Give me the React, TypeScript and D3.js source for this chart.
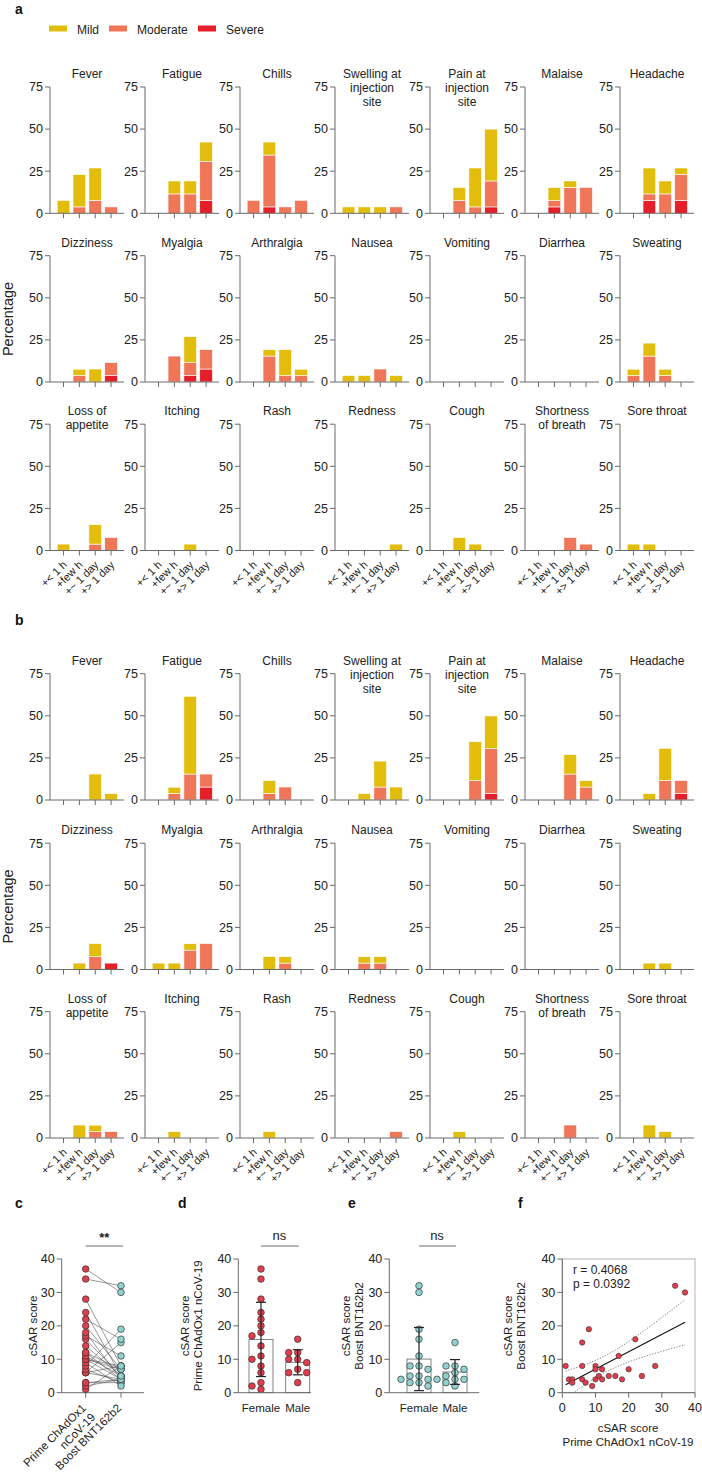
import React from "react";
import * as d3 from "d3";

const FONT = "'Liberation Sans', Arial, Helvetica, sans-serif";

// ---------- Panels a/b data ----------
const symptoms = [
  "Fever", "Fatigue", "Chills", "Swelling at\ninjection\nsite", "Pain at\ninjection\nsite", "Malaise", "Headache",
  "Dizziness", "Myalgia", "Arthralgia", "Nausea", "Vomiting", "Diarrhea", "Sweating",
  "Loss of\nappetite", "Itching", "Rash", "Redness", "Cough", "Shortness\nof breath", "Sore throat",
];
const onsetLabels = ["+< 1 h", "+few h", "+~ 1 day", "+> 1 day"];
const severityNames = ["Mild", "Moderate", "Severe"];
const severityColors = ["#E2BD0C", "#EF7658", "#E51F29"];
const yTicks = [0, 25, 50, 75];

// Prime (panel a), % of participants, per symptom: [<1h, few h, ~1 day, >1 day]
const primeMild = [
  [7.7, 19.2, 19.2, 0], [0, 7.7, 7.7, 11.5], [0, 7.7, 0, 0], [3.8, 3.8, 3.8, 0], [0, 7.7, 23.1, 30.8], [0, 7.7, 3.8, 0], [0, 15.4, 7.7, 3.8],
  [0, 3.8, 7.7, 0], [0, 0, 15.4, 0], [0, 3.8, 15.4, 3.8], [3.8, 3.8, 0, 3.8], [0, 0, 0, 0], [0, 0, 0, 0], [3.8, 7.7, 3.8, 0],
  [3.8, 0, 11.5, 0], [0, 0, 3.8, 0], [0, 0, 0, 0], [0, 0, 0, 3.8], [0, 7.7, 3.8, 0], [0, 0, 0, 0], [3.8, 3.8, 0, 0],
];
const primeModerate = [
  [0, 3.8, 7.7, 3.8], [0, 11.5, 11.5, 23.1], [7.7, 30.8, 3.8, 7.7], [0, 0, 0, 3.8], [0, 7.7, 3.8, 15.4], [0, 3.8, 15.4, 15.4], [0, 3.8, 11.5, 15.4],
  [0, 3.8, 0, 7.7], [0, 15.4, 7.7, 11.5], [0, 15.4, 3.8, 3.8], [0, 0, 7.7, 0], [0, 0, 0, 0], [0, 0, 0, 0], [3.8, 15.4, 3.8, 0],
  [0, 0, 3.8, 7.7], [0, 0, 0, 0], [0, 0, 0, 0], [0, 0, 0, 0], [0, 0, 0, 0], [0, 0, 7.7, 3.8], [0, 0, 0, 0],
];
const primeSevere = [
  [0, 0, 0, 0], [0, 0, 0, 7.7], [0, 3.8, 0, 0], [0, 0, 0, 0], [0, 0, 0, 3.8], [0, 3.8, 0, 0], [0, 7.7, 0, 7.7],
  [0, 0, 0, 3.8], [0, 0, 3.8, 7.7], [0, 0, 0, 0], [0, 0, 0, 0], [0, 0, 0, 0], [0, 0, 0, 0], [0, 0, 0, 0],
  [0, 0, 0, 0], [0, 0, 0, 0], [0, 0, 0, 0], [0, 0, 0, 0], [0, 0, 0, 0], [0, 0, 0, 0], [0, 0, 0, 0],
];

// Boost (panel b)
const boostMild = [
  [0, 0, 15.4, 3.8], [0, 3.8, 46.2, 0], [0, 7.7, 0, 0], [0, 3.8, 15.4, 7.7], [0, 0, 23.1, 19.2], [0, 0, 11.5, 3.8], [0, 3.8, 19.2, 0],
  [0, 3.8, 7.7, 0], [3.8, 3.8, 3.8, 0], [0, 7.7, 3.8, 0], [0, 3.8, 3.8, 0], [0, 0, 0, 0], [0, 0, 0, 0], [0, 3.8, 3.8, 0],
  [0, 7.7, 3.8, 0], [0, 3.8, 0, 0], [0, 3.8, 0, 0], [0, 0, 0, 0], [0, 3.8, 0, 0], [0, 0, 0, 0], [0, 7.7, 3.8, 0],
];
const boostModerate = [
  [0, 0, 0, 0], [0, 3.8, 15.4, 7.7], [0, 3.8, 7.7, 0], [0, 0, 7.7, 0], [0, 0, 11.5, 26.9], [0, 0, 15.4, 7.7], [0, 0, 11.5, 7.7],
  [0, 0, 7.7, 0], [0, 0, 11.5, 15.4], [0, 0, 3.8, 0], [0, 3.8, 3.8, 0], [0, 0, 0, 0], [0, 0, 0, 0], [0, 0, 0, 0],
  [0, 0, 3.8, 3.8], [0, 0, 0, 0], [0, 0, 0, 0], [0, 0, 0, 3.8], [0, 0, 0, 0], [0, 0, 7.7, 0], [0, 0, 0, 0],
];
const boostSevere = [
  [0, 0, 0, 0], [0, 0, 0, 7.7], [0, 0, 0, 0], [0, 0, 0, 0], [0, 0, 0, 3.8], [0, 0, 0, 0], [0, 0, 0, 3.8],
  [0, 0, 0, 3.8], [0, 0, 0, 0], [0, 0, 0, 0], [0, 0, 0, 0], [0, 0, 0, 0], [0, 0, 0, 0], [0, 0, 0, 0],
  [0, 0, 0, 0], [0, 0, 0, 0], [0, 0, 0, 0], [0, 0, 0, 0], [0, 0, 0, 0], [0, 0, 0, 0], [0, 0, 0, 0],
];

// ---------- Panels c-f data (cSAR scores, paired per participant) ----------
const pairedPrime = [1, 2, 3, 3, 6, 6, 6, 7, 8, 9, 10, 10, 10, 11, 12, 12, 14, 16, 17, 18, 20, 22, 24, 28, 34, 37];
const pairedBoost = [8, 4, 4, 3, 15, 8, 4, 3, 19, 2, 8, 7, 4, 5, 7, 4, 5, 5, 11, 4, 7, 16, 5, 8, 32, 30];
const primeFemale = [37, 34, 28, 24, 22, 20, 18, 17, 14, 11, 10, 8, 6, 3, 2, 1];
const primeMale = [16, 12, 12, 10, 10, 9, 7, 6, 6, 3];
const boostFemale = [32, 30, 19, 16, 11, 8, 8, 7, 5, 5, 4, 4, 4, 3, 3, 2];
const boostMale = [15, 8, 8, 7, 5, 4, 4, 3, 2, 6];
const groupLabels = ["Female", "Male"];
const pairLabels = ["Prime ChAdOx1\nnCoV-19", "Boost BNT162b2"];
const scoreTicks = [0, 10, 20, 30, 40];
const corrR = "r = 0.4068";
const corrP = "p = 0.0392";

const RED = "#E33C4D";
const TEAL = "#8FD3D0";
const AXIS = "#6a6a6a";

const SEV_KEYS = ["Severe", "Moderate", "Mild"];

function Facet({ x0, y0, title, mild, moderate, severe, showLabels }: any) {
  const x = d3.scaleBand<string>().domain(onsetLabels).range([x0 + 5.6, x0 + 69]).paddingInner(0.2).paddingOuter(0.1);
  const y = d3.scaleLinear().domain([0, 75]).range([y0, y0 - 126.3]);
  const rows = onsetLabels.map((k, i) => ({ key: k, Mild: mild[i], Moderate: moderate[i], Severe: severe[i] }));
  const series = d3.stack<any>().keys(SEV_KEYS)(rows);
  const colorOf: any = { Mild: severityColors[0], Moderate: severityColors[1], Severe: severityColors[2] };
  const lines = title.split("\n");
  const top = y(75);
  return (
    <g>
      {lines.map((l: string, i: number) => (
        <text key={i} x={x0 + 37} y={top - 9 + i * 14} textAnchor="middle" fontSize={12} fill="#222">{l}</text>
      ))}
      {series.map((s) => (
        <g key={s.key} fill={colorOf[s.key]}>
          {s.map((d: any, i: number) =>
            d[1] - d[0] > 0 ? (
              <rect key={i} x={x(onsetLabels[i])} y={y(d[1])} width={x.bandwidth()} height={y(d[0]) - y(d[1])} stroke="#fff" strokeWidth={0.6} />
            ) : null
          )}
        </g>
      ))}
      <line x1={x0} x2={x0} y1={y(0)} y2={y(75)} stroke={AXIS} strokeWidth={1} />
      <line x1={x0} x2={x0 + 74} y1={y0} y2={y0} stroke={AXIS} strokeWidth={1} />
      {yTicks.map((t) => (
        <g key={t}>
          <line x1={x0 - 5} x2={x0} y1={y(t)} y2={y(t)} stroke={AXIS} />
          <text x={x0 - 7} y={y(t)} dy="0.35em" textAnchor="end" fontSize={12.5} fill="#222">{t}</text>
        </g>
      ))}
      {onsetLabels.map((l) => {
        const cx = (x(l) as number) + x.bandwidth() / 2;
        return (
          <g key={l}>
            <line x1={cx} x2={cx} y1={y0} y2={y0 + 5} stroke={AXIS} />
            {showLabels ? (
              <text transform={`translate(${cx + 4},${y0 + 15}) rotate(-45)`} textAnchor="end" fontSize={11} fill="#222">{l}</text>
            ) : null}
          </g>
        );
      })}
    </g>
  );
}

function SymptomPanel({ rowZeros, mild, moderate, severe, letter, letterY }: any) {
  return (
    <g>
      <text x={15} y={letterY} fontSize={14} fontWeight="bold" fill="#111">{letter}</text>
      <text transform={`translate(13,${rowZeros[1] - 63})rotate(-90)`} textAnchor="middle" fontSize={14.5} fill="#222">Percentage</text>
      {symptoms.map((s, i) => {
        const r = Math.floor(i / 7);
        const c = i % 7;
        return (
          <Facet key={s} x0={50 + c * 95} y0={rowZeros[r]} title={s} mild={mild[i]} moderate={moderate[i]} severe={severe[i]} showLabels={r === 2} />
        );
      })}
    </g>
  );
}

function swarm(values: number[], yScale: any, cx: number, r: number, step: number) {
  const order = values.map((v, i) => ({ v, i })).sort((a, b) => b.v - a.v);
  const placed: { x: number; y: number }[] = [];
  const res: { x: number; y: number }[] = new Array(values.length);
  for (const { v, i } of order) {
    const yy = yScale(v);
    for (const dx of [0, -step, step, -2 * step, 2 * step]) {
      if (placed.every((p) => Math.hypot(p.x - (cx + dx), p.y - yy) >= 2 * r - 0.5)) {
        res[i] = { x: cx + dx, y: yy };
        placed.push(res[i]);
        break;
      }
    }
    if (!res[i]) { res[i] = { x: cx, y: yy }; placed.push(res[i]); }
  }
  return res;
}

const Y0 = 1392.7;
const Y40 = 1259;
const yScore = d3.scaleLinear().domain([0, 40]).range([Y0, Y40]);

function ScoreYAxis({ x0 }: any) {
  return (
    <g>
      <line x1={x0} x2={x0} y1={yScore(0)} y2={yScore(40)} stroke={AXIS} />
      {scoreTicks.map((t) => (
        <g key={t}>
          <line x1={x0 - 5} x2={x0} y1={yScore(t)} y2={yScore(t)} stroke={AXIS} />
          <text x={x0 - 7} y={yScore(t)} dy="0.35em" textAnchor="end" fontSize={12.5} fill="#222">{t}</text>
        </g>
      ))}
    </g>
  );
}

function YLabel({ x, lines }: any) {
  const cy = (Y0 + Y40) / 2;
  return (
    <text transform={`translate(${x},${cy}) rotate(-90)`} textAnchor="middle" fontSize={11.5} fill="#222">
      {lines.map((l: string, i: number) => (
        <tspan key={i} x={0} dy={i === 0 ? 0 : "1.15em"}>{l}</tspan>
      ))}
    </text>
  );
}

function PanelC() {
  const x0 = 61.7;
  const xs = d3.scalePoint<string>().domain(pairLabels).range([85.7, 121]);
  const xp = xs(pairLabels[0]) as number;
  const xb = xs(pairLabels[1]) as number;
  return (
    <g>
      <text x={15} y={1208} fontSize={14} fontWeight="bold" fill="#111">c</text>
      <YLabel x={37} lines={["cSAR score"]} />
      <ScoreYAxis x0={x0} />
      <line x1={x0} x2={144} y1={Y0} y2={Y0} stroke={AXIS} />
      {pairLabels.map((l) => (
        <line key={l} x1={xs(l)} x2={xs(l)} y1={Y0} y2={Y0 + 5} stroke={AXIS} />
      ))}
      {pairedPrime.map((p, i) => (
        <line key={i} x1={xp} x2={xb} y1={yScore(p)} y2={yScore(pairedBoost[i])} stroke="#555" strokeWidth={0.6} />
      ))}
      {pairedPrime.map((p, i) => (
        <circle key={"p" + i} cx={xp} cy={yScore(p)} r={3.3} fill={RED} stroke="#333" strokeWidth={0.7} />
      ))}
      {pairedBoost.map((b, i) => (
        <circle key={"b" + i} cx={xb} cy={yScore(b)} r={3.3} fill={TEAL} stroke="#333" strokeWidth={0.7} />
      ))}
      <line x1={xp} x2={xb + 2} y1={1246} y2={1246} stroke="#444" strokeWidth={0.8} />
      <text x={(xp + xb) / 2 + 1} y={1242} textAnchor="middle" fontSize={13} fontWeight="bold" fill="#222">**</text>
      {pairLabels.map((l) => {
        const parts = l.split("\n");
        return (
          <text key={l} transform={`translate(${(xs(l) as number) + 1},${Y0 + 16}) rotate(-45)`} textAnchor="end" fontSize={11.5} fill="#222">
            {parts.map((p, i) => (
              <tspan key={i} x={0} dy={i === 0 ? 0 : "1.15em"}>{p}</tspan>
            ))}
          </text>
        );
      })}
    </g>
  );
}

function GroupPanel({ x0, xEnd, c1, c2, letter, letterX, female, male, color, ylines, ylabelX }: any) {
  const xs = d3.scalePoint<string>().domain(groupLabels).range([c1, c2]);
  const bw = 24;
  const groups = [female, male];
  return (
    <g>
      <text x={letterX} y={1208} fontSize={14} fontWeight="bold" fill="#111">{letter}</text>
      <YLabel x={ylabelX} lines={ylines} />
      {groups.map((vals: number[], gi: number) => {
        const g = groupLabels[gi];
        const cx = xs(g) as number;
        const m = d3.mean(vals) as number;
        const sd = d3.deviation(vals) as number;
        const pts = swarm(vals, yScore, cx, 3.3, 9);
        return (
          <g key={g}>
            <rect x={cx - bw / 2} y={yScore(m)} width={bw} height={Y0 - yScore(m)} fill="#fff" stroke="#666" strokeWidth={0.8} />
            {pts.map((p, i) => (
              <circle key={i} cx={p.x} cy={p.y} r={3.3} fill={color} stroke="#333" strokeWidth={0.7} />
            ))}
            <line x1={cx} x2={cx} y1={yScore(Math.max(0, m - sd))} y2={yScore(m + sd)} stroke="#222" strokeWidth={1.2} />
            <line x1={cx - 5} x2={cx + 5} y1={yScore(m + sd)} y2={yScore(m + sd)} stroke="#222" strokeWidth={1.2} />
            <line x1={cx - 5} x2={cx + 5} y1={yScore(Math.max(0, m - sd))} y2={yScore(Math.max(0, m - sd))} stroke="#222" strokeWidth={1.2} />
            <text x={cx} y={Y0 + 19} textAnchor="middle" fontSize={11.5} fill="#222">{g}</text>
          </g>
        );
      })}
      <ScoreYAxis x0={x0} />
      <line x1={x0} x2={xEnd} y1={Y0} y2={Y0} stroke={AXIS} />
      <line x1={c1} x2={c2 + 1} y1={1246} y2={1246} stroke="#444" strokeWidth={0.8} />
      <text x={(c1 + c2) / 2} y={1240} textAnchor="middle" fontSize={13} fill="#222">ns</text>
    </g>
  );
}

function PanelF() {
  const x = d3.scaleLinear().domain([0, 40]).range([562.3, 695]);
  const n = pairedPrime.length;
  const mx = d3.mean(pairedPrime) as number;
  const my = d3.mean(pairedBoost) as number;
  const sxx = d3.sum(pairedPrime, (v) => (v - mx) ** 2);
  const sxy = d3.sum(pairedPrime, (v, i) => (v - mx) * (pairedBoost[i] - my));
  const b = sxy / sxx;
  const a = my - b * mx;
  const s = Math.sqrt(d3.sum(pairedPrime, (v, i) => (pairedBoost[i] - a - b * v) ** 2) / (n - 2));
  const t = 2.064;
  const [xmin, xmax] = d3.extent(pairedPrime) as [number, number];
  const xsamp = d3.range(0, 61).map((k) => xmin + ((xmax - xmin) * k) / 60);
  const hw = (xv: number) => t * s * Math.sqrt(1 / n + (xv - mx) ** 2 / sxx);
  const lineGen = d3.line<number[]>().x((d) => x(d[0])).y((d) => yScore(d[1]));
  const upper = xsamp.map((xv) => [xv, a + b * xv + hw(xv)]);
  const lower = xsamp.map((xv) => [xv, a + b * xv - hw(xv)]);
  return (
    <g>
      <text x={518} y={1208} fontSize={14} fontWeight="bold" fill="#111">f</text>
      <defs>
        <clipPath id="fclip">
          <rect x={x(0)} y={yScore(40)} width={x(40) - x(0)} height={Y0 - yScore(40)} />
        </clipPath>
      </defs>
      <rect x={x(0)} y={yScore(40)} width={x(40) - x(0)} height={Y0 - yScore(40)} fill="none" stroke="#b5b5b5" strokeWidth={1} />
      <YLabel x={512} lines={["cSAR score", "Boost BNT162b2"]} />
      <ScoreYAxis x0={x(0)} />
      <line x1={x(0)} x2={x(40)} y1={Y0} y2={Y0} stroke={AXIS} />
      {scoreTicks.map((tk) => (
        <g key={tk}>
          <line x1={x(tk)} x2={x(tk)} y1={Y0} y2={Y0 + 5} stroke={AXIS} />
          <text x={x(tk)} y={Y0 + 19} textAnchor="middle" fontSize={12.5} fill="#222">{tk}</text>
        </g>
      ))}
      <g clipPath="url(#fclip)">
        <path d={lineGen(upper) as string} fill="none" stroke="#555" strokeWidth={0.8} strokeDasharray="1.2,1.6" />
        <path d={lineGen(lower) as string} fill="none" stroke="#555" strokeWidth={0.8} strokeDasharray="1.2,1.6" />
        <line x1={x(xmin)} x2={x(xmax)} y1={yScore(a + b * xmin)} y2={yScore(a + b * xmax)} stroke="#111" strokeWidth={1.1} />
      </g>
      {pairedPrime.map((p, i) => (
        <circle key={i} cx={x(p)} cy={yScore(pairedBoost[i])} r={2.7} fill={RED} stroke="#333" strokeWidth={0.6} />
      ))}
      <text x={573} y={1274} fontSize={12} fill="#222">{corrR}</text>
      <text x={573} y={1287.5} fontSize={12} fill="#222">{corrP}</text>
      <text x={628} y={1432} textAnchor="middle" fontSize={11.5} fill="#222">cSAR score</text>
      <text x={628} y={1446} textAnchor="middle" fontSize={11.5} fill="#222">Prime ChAdOx1 nCoV-19</text>
    </g>
  );
}

export default function App() {
  const legendX = [49, 109, 198];
  return (
    <svg width={702} height={1473} style={{ position: "absolute", left: 0, top: 0, background: "#fff" }} fontFamily={FONT}>
      <rect x={0} y={0} width={702} height={1473} fill="#fff" />
      {severityNames.map((n, i) => (
        <g key={n}>
          <rect x={legendX[i]} y={25.5} width={18} height={6} fill={severityColors[i]} />
          <text x={legendX[i] + 28} y={33.5} fontSize={12} fill="#222">{n}</text>
        </g>
      ))}
      <SymptomPanel rowZeros={[213.3, 382, 550.5]} mild={primeMild} moderate={primeModerate} severe={primeSevere} letter="a" letterY={14} />
      <SymptomPanel rowZeros={[800, 969.5, 1138]} mild={boostMild} moderate={boostModerate} severe={boostSevere} letter="b" letterY={625} />
      <PanelC />
      <GroupPanel x0={238.3} xEnd={311} c1={261} c2={297.7} letter="d" letterX={178} female={primeFemale} male={primeMale} color={RED} ylines={["cSAR score", "Prime ChAdOx1 nCoV-19"]} ylabelX={189} />
      <GroupPanel x0={389.3} xEnd={479.3} c1={419} c2={455} letter="e" letterX={348} female={boostFemale} male={boostMale} color={TEAL} ylines={["cSAR score", "Boost BNT162b2"]} ylabelX={350} />
      <PanelF />
    </svg>
  );
}
